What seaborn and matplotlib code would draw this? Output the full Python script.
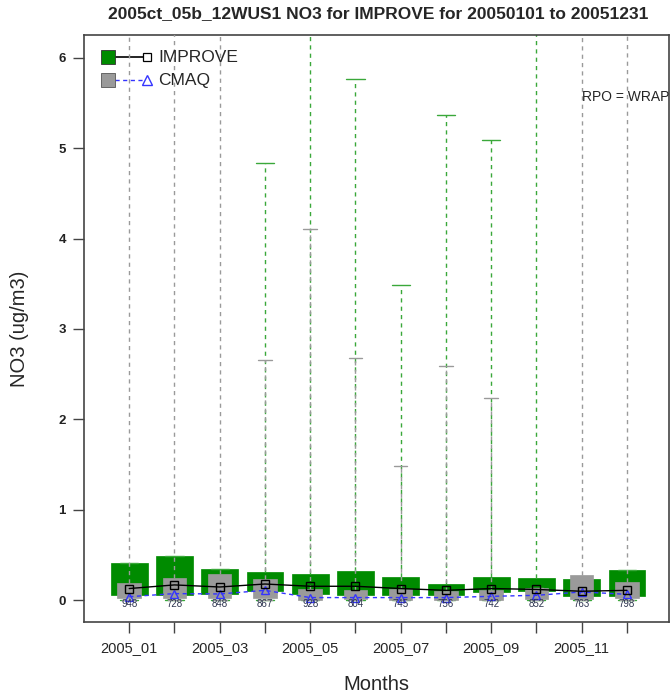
import numpy as np
import matplotlib
matplotlib.use("Agg")
import matplotlib.pyplot as plt
import seaborn as sns
import pandas as pd

# monthly box statistics (ug/m3)
months = ["2005_01", "2005_02", "2005_03", "2005_04", "2005_05", "2005_06",
          "2005_07", "2005_08", "2005_09", "2005_10", "2005_11", "2005_12"]
counts = [948, 728, 848, 867, 928, 804, 745, 756, 742, 852, 763, 798]

imp_q1 = [0.055, 0.063, 0.074, 0.10, 0.07, 0.063, 0.055, 0.055, 0.09, 0.10, 0.044, 0.044]
imp_med = [0.13, 0.17, 0.147, 0.18, 0.155, 0.155, 0.13, 0.11, 0.13, 0.12, 0.10, 0.11]
imp_q3 = [0.41, 0.49, 0.35, 0.31, 0.295, 0.325, 0.26, 0.185, 0.26, 0.25, 0.23, 0.33]
# upper whisker; where no green whisker shows in the picture it ends at q3
imp_max = [0.41, 0.49, 0.35, 4.83, 6.6, 5.76, 3.49, 5.37, 5.09, 6.6, 0.23, 0.33]

cmaq_q1 = [0.02, 0.03, 0.02, 0.03, 0.0, 0.01, 0.0, 0.0, 0.0, 0.01, 0.01, 0.02]
cmaq_med = [0.04, 0.074, 0.07, 0.11, 0.03, 0.03, 0.03, 0.03, 0.044, 0.055, 0.092, 0.066]
cmaq_q3 = [0.19, 0.247, 0.295, 0.23, 0.13, 0.11, 0.12, 0.10, 0.11, 0.14, 0.277, 0.20]
cmaq_max = [6.6, 6.6, 6.6, 2.66, 4.10, 2.68, 1.49, 2.59, 2.24, 0.14, 6.6, 6.6]

pos = np.arange(1, len(months) + 1)

GREEN = "#008b00"
GRAY = "#9a9a9a"
BLUE = "#3434ff"

sns.set_style("ticks")
plt.rcParams["font.family"] = ["Liberation Sans", "DejaVu Sans"]

fig = plt.figure(figsize=(6.7, 6.96), dpi=100)
ax = fig.add_axes([84 / 670, 74 / 696, 585 / 670, 587 / 696])


def stats(q1, med, q3, hi):
    return [dict(med=m, q1=a, q3=b, whislo=0.0, whishi=h, fliers=[])
            for a, m, b, h in zip(q1, med, q3, hi)]


dash = (0, (3, 3))
ax.bxp(stats(imp_q1, imp_med, imp_q3, imp_max), positions=pos, widths=0.81,
       patch_artist=True, showfliers=False, capwidths=0.4,
       boxprops=dict(facecolor=GREEN, edgecolor=GREEN, linewidth=0.5),
       whiskerprops=dict(color="#3aa83a", linestyle=dash, linewidth=1.0),
       capprops=dict(color="#3aa83a", linewidth=1.0),
       medianprops=dict(linewidth=0), zorder=2)
ax.bxp(stats(cmaq_q1, cmaq_med, cmaq_q3, cmaq_max), positions=pos, widths=0.52,
       patch_artist=True, showfliers=False, capwidths=0.3,
       boxprops=dict(facecolor=GRAY, edgecolor=GRAY, linewidth=0.5),
       whiskerprops=dict(color=GRAY, linestyle=dash, linewidth=1.0),
       capprops=dict(color=GRAY, linewidth=1.0),
       medianprops=dict(linewidth=0), zorder=3)

df = pd.DataFrame({"pos": pos, "IMPROVE": imp_med, "CMAQ": cmaq_med})
sns.lineplot(data=df, x="pos", y="IMPROVE", ax=ax, color="black", lw=1.0,
             marker="s", markersize=5.5, markerfacecolor="none",
             markeredgecolor="black", markeredgewidth=1.0, zorder=5)
sns.lineplot(data=df, x="pos", y="CMAQ", ax=ax, color=BLUE, lw=1.0,
             linestyle=(0, (3, 2.5)), marker="^", markersize=6,
             markerfacecolor="none", markeredgecolor=BLUE,
             markeredgewidth=1.0, zorder=4)

for p, n in zip(pos, counts):
    ax.text(p, -0.045, str(n), ha="center", va="center", fontsize=7,
            color="#2e3550", zorder=6)

ax.set_xlim(0.0, 12.93)
ax.set_ylim(-0.24, 6.25)
ax.set_xticks(pos)
ax.set_xticklabels([m if i % 2 == 0 else "" for i, m in enumerate(months)],
                   fontsize=10.5)
ax.set_yticks(range(0, 7))
ax.set_yticklabels([str(v) for v in range(0, 7)], fontsize=9.5,
                   fontweight="bold", color="#222222")
ax.tick_params(axis="both", length=8, width=1.0, color="#444444")
ax.tick_params(axis="x", pad=6)
ax.tick_params(axis="y", pad=5)
ax.set_xlabel("Months", fontsize=14.5, labelpad=14)
ax.set_ylabel("NO3 (ug/m3)", fontsize=14.5, labelpad=21)
for s in ax.spines.values():
    s.set_color("#444444")
    s.set_linewidth(1.2)

# legend drawn by hand in the top left corner
tr = ax.transAxes
ax.plot([0.053, 0.108], [0.9625, 0.9625], color="black", lw=1.2, transform=tr)
ax.plot([0.041], [0.9625], marker="s", ms=10, color=GREEN, mec="#333333",
        mew=0.6, transform=tr)
ax.plot([0.108], [0.9625], marker="s", ms=6, mfc="white", mec="black",
        mew=0.9, transform=tr)
ax.text(0.1265, 0.9625, "IMPROVE", fontsize=12.5, va="center", transform=tr)
ax.plot([0.053, 0.108], [0.923, 0.923], color=BLUE, lw=1.0,
        linestyle=(0, (3, 2.5)), transform=tr)
ax.plot([0.041], [0.923], marker="s", ms=10, color=GRAY, mec="#555555",
        mew=0.6, transform=tr)
ax.plot([0.108], [0.923], marker="^", ms=7, mfc="white", mec=BLUE,
        mew=1.0, transform=tr)
ax.text(0.1265, 0.923, "CMAQ", fontsize=12.5, va="center", transform=tr)

ax.text(0.851, 0.894, "RPO = WRAP", fontsize=10, va="center", transform=tr)

fig.text(0.564, 0.98, "2005ct_05b_12WUS1 NO3 for IMPROVE for 20050101 to 20051231",
         ha="center", va="center", fontsize=12.5, fontweight="bold")

fig.savefig("out.png", dpi=100)
